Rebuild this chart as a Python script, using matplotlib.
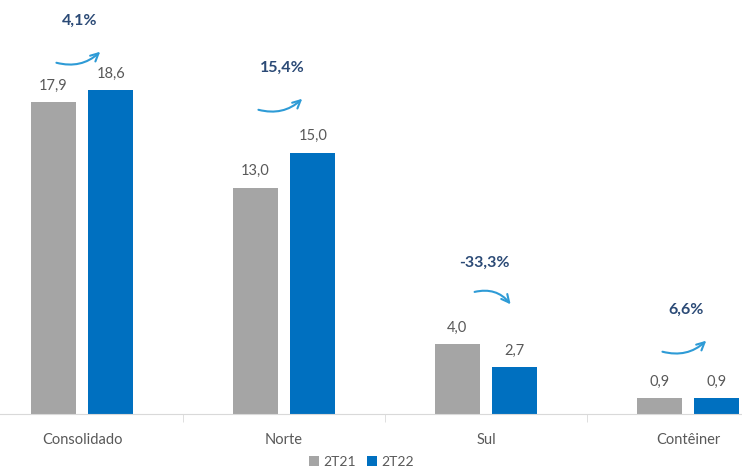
import matplotlib.pyplot as plt
import numpy as np

plt.rcParams['font.family'] = ['Lato', 'DejaVu Sans']

# data
categories = ['Consolidado', 'Norte', 'Sul', 'Contêiner']
v_2t21 = [17.9, 13.0, 4.0, 0.9]
v_2t22 = [18.6, 15.0, 2.7, 0.9]
changes = ['4,1%', '15,4%', '-33,3%', '6,6%']
series_names = ['2T21', '2T22']

# how high the variation label sits above the taller bar (layout only)
label_lift = [3.96, 4.86, 4.67, 5.07]

gray = '#A5A5A5'
blue = '#0070C0'
txt = '#595959'
arrow_c = '#2E9BD6'
pct_c = '#2B4A76'

fig = plt.figure(figsize=(7.42, 4.75), dpi=100)
ax = fig.add_axes([0, 0.1284, 1, 0.8716])

x = np.arange(len(categories))
w = 0.223
off = 0.143
b1 = ax.bar(x - off, v_2t21, w, color=gray, label=series_names[0])
b2 = ax.bar(x + off, v_2t22, w, color=blue, label=series_names[1])

for bars in (b1, b2):
    for r in bars:
        ax.text(r.get_x() + r.get_width() / 2, r.get_height() + 0.55,
                f'{r.get_height():.1f}'.replace('.', ','),
                ha='center', va='bottom', fontsize=10.5, color=txt)

# variation labels with curved arrows
for i, c in enumerate(changes):
    ly = max(v_2t21[i], v_2t22[i]) + label_lift[i]
    ax.text(x[i] - 0.01, ly, c, ha='center', va='center',
            fontsize=11.5, fontweight='bold', color=pct_c)
    if c.startswith('-'):
        start = (x[i] - 0.07, ly - 1.7)
        end = (x[i] + 0.13, ly - 2.5)
        rad = -0.35
    else:
        start = (x[i] - 0.14, ly - 2.35)
        end = (x[i] + 0.1, ly - 1.65)
        rad = 0.3
    ax.annotate('', xy=end, xytext=start,
                arrowprops=dict(arrowstyle='->', color=arrow_c, lw=1.5,
                                connectionstyle=f'arc3,rad={rad}',
                                mutation_scale=14))

ax.set_xlim(-0.406, 3.267)
ax.set_ylim(0, 23.77)
ax.set_xticks(x)
ax.set_xticklabels(categories, fontsize=10.5, color=txt)
ax.set_xticks(x[:-1] + 0.5, minor=True)
ax.tick_params(axis='x', which='major', length=0, pad=14)
ax.tick_params(axis='x', which='minor', length=6, color='#D9D9D9')
ax.set_yticks([])
for s in ['top', 'right', 'left']:
    ax.spines[s].set_visible(False)
ax.spines['bottom'].set_color('#D9D9D9')

fig.legend(loc='lower center', bbox_to_anchor=(0.487, -0.012), ncol=2, frameon=False,
           fontsize=10, labelcolor=txt, handlelength=0.7, handleheight=0.7,
           handletextpad=0.3, columnspacing=0.8)

fig.savefig('out.png', dpi=100)
